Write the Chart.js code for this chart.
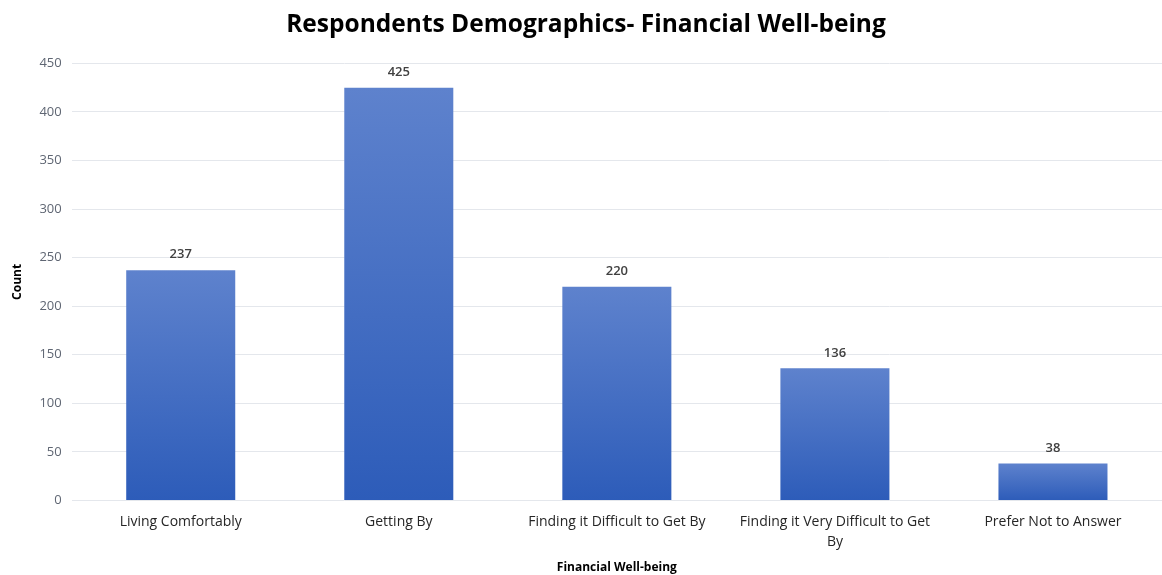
<!DOCTYPE html>
<html>
<head>
<meta charset="utf-8">
<script src="https://cdn.jsdelivr.net/npm/chart.js@4"></script>
<style>
  html, body { margin: 0; padding: 0; background: #fff; }
  #wrap { width: 1162px; height: 575px; }
</style>
</head>
<body>
<div id="wrap"><canvas id="wellbeingChart" width="1162" height="575"></canvas></div>
<script>
// Survey answers, one bar per category
const categories = [
    'Living Comfortably',
    'Getting By',
    'Finding it Difficult to Get By',
    ['Finding it Very Difficult to Get', 'By'],
    'Prefer Not to Answer'
];
const counts = [237, 425, 220, 136, 38];
const yTicks = [0, 50, 100, 150, 200, 250, 300, 350, 400, 450];

const FONT = "'Open Sans', sans-serif";

// vertical gradient for each bar, lighter at the top
function barGradient(context) {
    const chart = context.chart;
    const yScale = chart.scales.y;
    if (!chart.chartArea || !yScale || context.raw === undefined) return '#4472c4';
    const base = yScale.getPixelForValue(0);
    const top = yScale.getPixelForValue(context.raw);
    if (!isFinite(top) || !isFinite(base) || base - top < 1) return '#4472c4';
    const g = chart.ctx.createLinearGradient(0, top, 0, base);
    g.addColorStop(0, '#5e82cd');
    g.addColorStop(1, '#2d5cb9');
    return g;
}

// value printed above every bar
const valueLabels = {
    id: 'valueLabels',
    afterDatasetsDraw(chart) {
        const ctx = chart.ctx;
        const meta = chart.getDatasetMeta(0);
        ctx.save();
        ctx.font = '600 13px ' + FONT;
        ctx.fillStyle = '#404040';
        ctx.textAlign = 'center';
        ctx.textBaseline = 'bottom';
        meta.data.forEach((bar, i) => {
            ctx.fillText(String(counts[i]), bar.x, bar.y - 9);
        });
        ctx.restore();
    }
};

const ctx = document.getElementById('wellbeingChart').getContext('2d');
const chart = new Chart(ctx, {
    type: 'bar',
    data: {
        labels: categories,
        datasets: [{
            label: 'Count',
            data: counts,
            backgroundColor: barGradient,
            borderWidth: 0,
            categoryPercentage: 1.0,
            barPercentage: 0.5
        }]
    },
    options: {
        responsive: false,
        animation: false,
        layout: { padding: { left: 10, right: 0, top: 8, bottom: 0 } },
        plugins: {
            legend: { display: false },
            tooltip: { enabled: false },
            title: {
                display: true,
                text: 'Respondents Demographics- Financial Well-being',
                color: '#000000',
                font: { family: FONT, size: 24.5, weight: 'bold' },
                padding: { top: 2, bottom: 24 }
            }
        },
        scales: {
            x: {
                grid: { display: false, drawTicks: false },
                border: { display: false },
                ticks: {
                    color: '#262626',
                    font: { family: FONT, size: 14, lineHeight: 1.4 },
                    maxRotation: 0,
                    autoSkip: false,
                    padding: 12
                },
                title: {
                    display: true,
                    text: 'Financial Well-being',
                    color: '#000000',
                    font: { family: FONT, size: 12, weight: 'bold' },
                    padding: { top: -3, bottom: 0 }
                }
            },
            y: {
                min: 0,
                max: 450,
                afterBuildTicks(axis) {
                    axis.ticks = yTicks.map(v => ({ value: v }));
                },
                grid: { color: '#e4e7ec', lineWidth: 1, drawTicks: false },
                border: { display: false },
                ticks: {
                    color: '#5f6673',
                    font: { family: FONT, size: 13 },
                    padding: 10
                },
                title: {
                    display: true,
                    text: 'Count',
                    color: '#000000',
                    font: { family: FONT, size: 12, weight: 'bold' },
                    padding: { top: 0, bottom: 5 }
                }
            }
        }
    },
    plugins: [valueLabels]
});
</script>
</body>
</html>
